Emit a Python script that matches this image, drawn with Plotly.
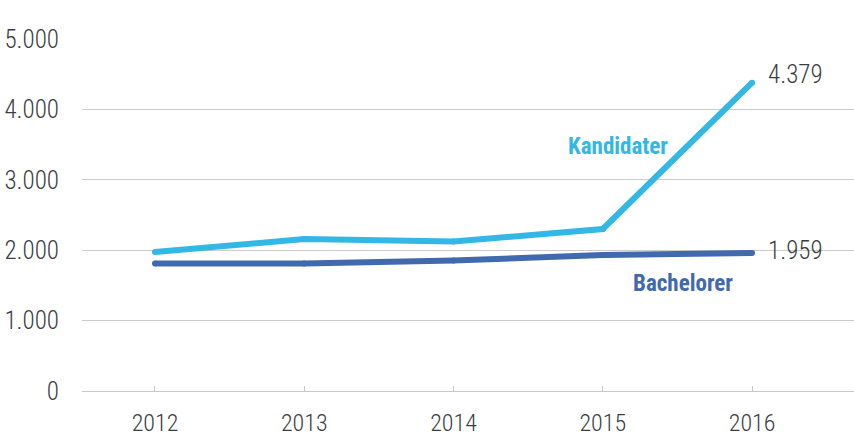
import plotly.graph_objects as go

years = [2012, 2013, 2014, 2015, 2016]
kandidater = [1974, 2159, 2124, 2301, 4379]
bachelorer = [1811, 1811, 1854, 1932, 1959]
y_ticks = [0, 1000, 2000, 3000, 4000, 5000]
y_tick_labels = ["0", "1.000", "2.000", "3.000", "4.000", "5.000"]

FONT = "Roboto Condensed, Open Sans Condensed, sans-serif"
C_K = "#33b7e5"
C_B = "#4169ad"
TXT = "#3a3d42"

fig = go.Figure()
fig.add_trace(go.Scatter(x=years, y=bachelorer, mode="lines+markers",
                         line=dict(color=C_B, width=6), marker=dict(size=6, color=C_B),
                         hoverinfo="skip", name="Bachelorer"))
fig.add_trace(go.Scatter(x=years, y=kandidater, mode="lines+markers",
                         line=dict(color=C_K, width=6), marker=dict(size=6, color=C_K),
                         hoverinfo="skip", name="Kandidater"))

fig.add_annotation(x=years[-1], y=kandidater[-1], text=f"{kandidater[-1]/1000:.3f}",
                   xanchor="left", yanchor="middle", xshift=14, yshift=8, showarrow=False,
                   font=dict(family=FONT, size=25, color=TXT, weight=300))
fig.add_annotation(x=years[-1], y=bachelorer[-1], text=f"{bachelorer[-1]/1000:.3f}",
                   xanchor="left", yanchor="middle", xshift=14, yshift=3, showarrow=False,
                   font=dict(family=FONT, size=25, color=TXT, weight=300))
fig.add_annotation(x=2015.10, y=3466, text="Kandidater", showarrow=False,
                   xanchor="center", yanchor="middle",
                   font=dict(family=FONT, size=23, color=C_K, weight=700))
fig.add_annotation(x=2015.54, y=1534, text="Bachelorer", showarrow=False,
                   xanchor="center", yanchor="middle",
                   font=dict(family=FONT, size=23, color=C_B, weight=700))

fig.update_layout(
    width=854, height=438,
    margin=dict(l=82, r=0, t=39, b=47),
    paper_bgcolor="white", plot_bgcolor="white",
    showlegend=False,
    font=dict(family=FONT, size=25, color=TXT),
    xaxis=dict(range=[2011.511, 2016.683], tickmode="array", tickvals=years,
               ticktext=[str(y) for y in years], showgrid=False, zeroline=False,
               showline=True, linecolor="#c8c8c8", linewidth=1,
               ticks="inside", ticklen=5, tickcolor="#c8c8c8", automargin=False,
               ticklabelstandoff=10, tickfont=dict(family=FONT, size=24, color=TXT, weight=300)),
    yaxis=dict(range=[0, 5000], tickmode="array", tickvals=y_ticks, ticktext=y_tick_labels,
               showgrid=True, gridcolor="#cccccc", gridwidth=1, zeroline=False,
               showline=False, ticks="", ticklabelstandoff=22, automargin=False,
               tickfont=dict(family=FONT, size=25, color=TXT, weight=300)),
)

fig.write_html("out.html", config={"displayModeBar": False},
               post_script="document.body.style.margin='0';document.body.style.overflow='hidden';")
